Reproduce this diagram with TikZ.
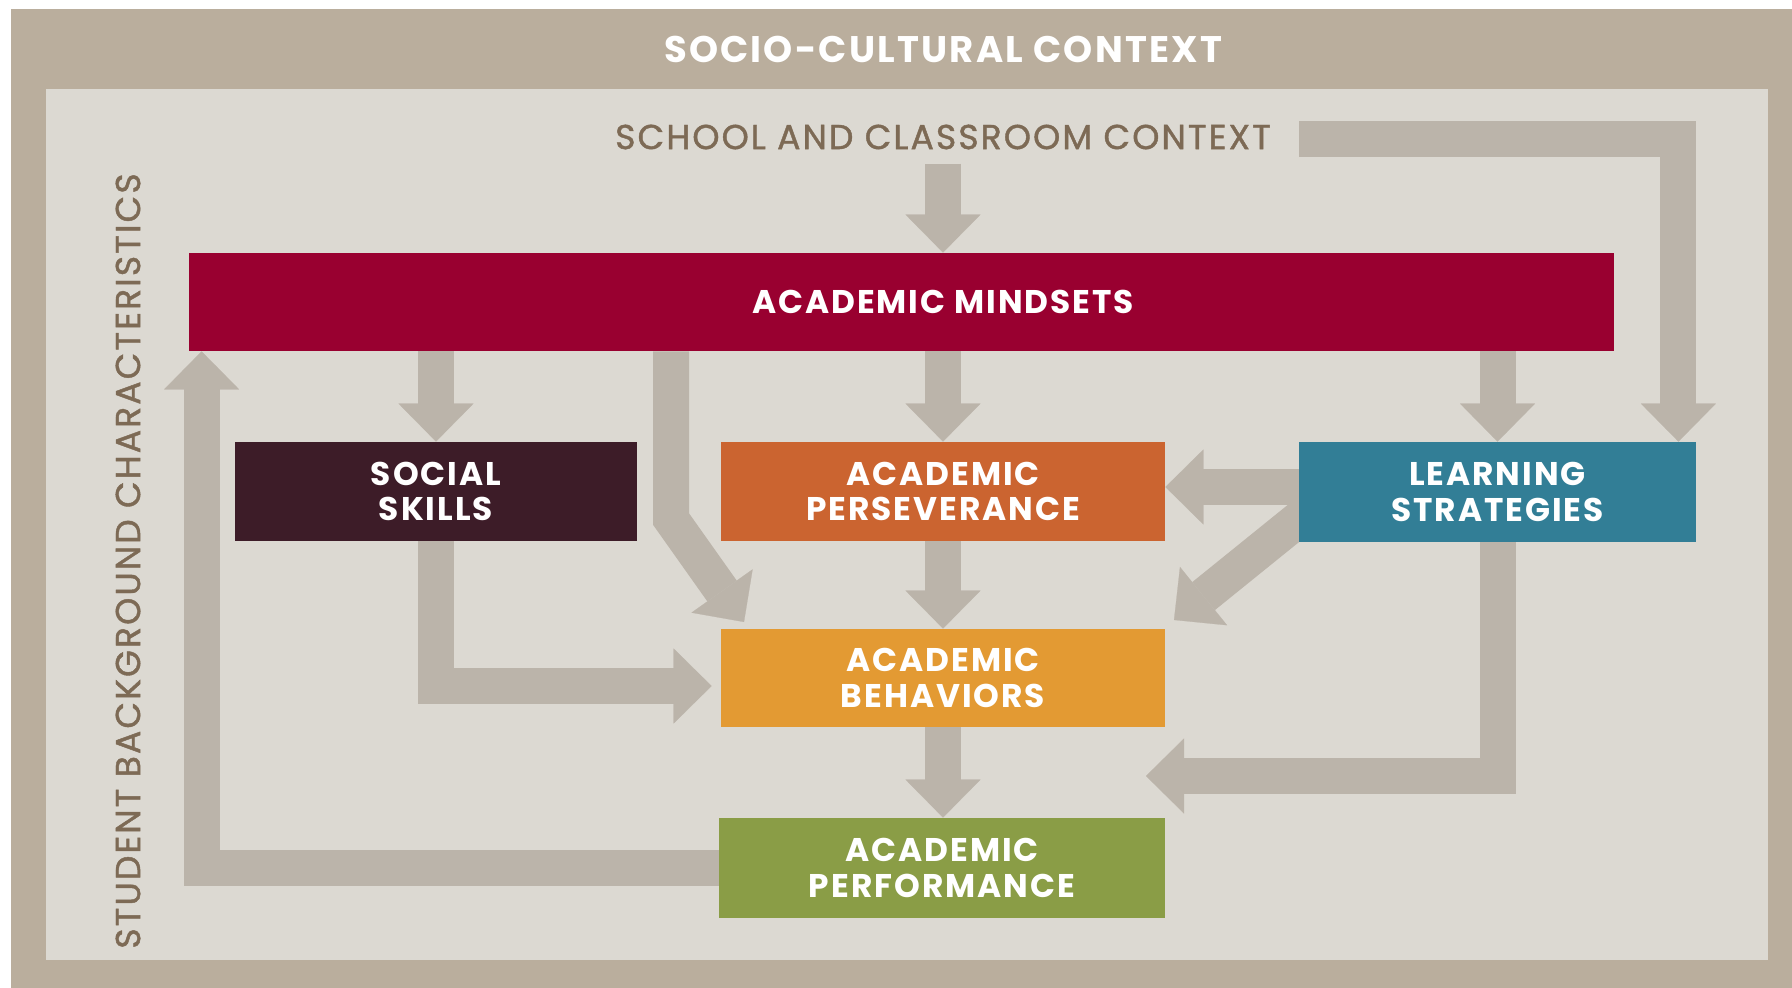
\documentclass[tikz,border=0pt]{standalone}
\usepackage{fontspec}
\setmainfont{Poppins}
\newfontfamily\capsfont{Poppins}[LetterSpace=6]
\newfontfamily\ctxfont{Poppins}[LetterSpace=6,FakeBold=1.2]
\usetikzlibrary{arrows.meta}
\definecolor{outerbg}{HTML}{BAAE9D}
\definecolor{innerbg}{HTML}{DCD9D2}
\definecolor{arrowgray}{HTML}{BBB4AA}
\definecolor{ctxbrown}{HTML}{7D6A55}
\definecolor{mindred}{HTML}{990030}
\definecolor{socialplum}{HTML}{3D1C28}
\definecolor{persorange}{HTML}{CB6430}
\definecolor{learnteal}{HTML}{327E96}
\definecolor{behgold}{HTML}{E39A33}
\definecolor{perfgreen}{HTML}{8A9D46}
\pgfdeclarelayer{bg}
\pgfdeclarelayer{arrlayer}
\pgfsetlayers{bg,arrlayer,main}

\begin{document}
\begin{tikzpicture}[x=0.5pt,y=-0.5pt,
  box/.style={inner sep=0pt, text=white, align=center,
    font=\capsfont\bfseries\fontsize{16.4}{17.8}\selectfont},
  ctxtext/.style={inner sep=0pt, text=ctxbrown,
    font=\ctxfont\fontsize{17.3}{19}\selectfont},
  arr/.style={draw=arrowgray, line width=18pt,
    -{Triangle[width=37.5pt,length=19pt,line width=0.1pt]}}]
\useasboundingbox (0,0) rectangle (1792,988);
\begin{pgfonlayer}{bg}
\fill [outerbg] (11,9) rectangle (1792,988);
\fill [innerbg] (46,89) rectangle (1768,960);
\end{pgfonlayer}

\node (socio) at (943,49) [inner sep=0pt, text=white, font=\capsfont\bfseries\fontsize{18.5}{20}\selectfont] {SOCIO-CULTURAL CONTEXT};
\node (school) at (943,137) [ctxtext] {SCHOOL AND CLASSROOM CONTEXT};
\node (student) at (128,561) [ctxtext, rotate=90] {STUDENT BACKGROUND CHARACTERISTICS};

\node (mind) at (901.5,302) [box, fill=mindred, minimum width=712.5pt, minimum height=49pt] {};
\node (mindtxt) at (943,302) [box] {ACADEMIC MINDSETS};
\node (soc) at (436,491.5) [box, fill=socialplum, minimum width=201pt, minimum height=49.5pt] {SOCIAL\\SKILLS};
\node (pers) at (943,491.5) [box, fill=persorange, minimum width=222pt, minimum height=49.5pt] {ACADEMIC\\PERSEVERANCE};
\node (learn) at (1497.5,492) [box, fill=learnteal, minimum width=198.5pt, minimum height=50pt] {LEARNING\\STRATEGIES};
\node (beh) at (943,678) [box, fill=behgold, minimum width=222pt, minimum height=49pt] {ACADEMIC\\BEHAVIORS};
\node (perf) at (942,868) [box, fill=perfgreen, minimum width=223pt, minimum height=50pt] {ACADEMIC\\PERFORMANCE};

\coordinate (ctx) at (1299,139.5);
\coordinate (bend) at (671,519);
\coordinate (mtip) at (744,622);
\coordinate (lsstart) at (1315,506);
\coordinate (ltip) at (1174,620);
\coordinate (gap) at (1146,776);

\begin{pgfonlayer}{arrlayer}
\draw [arr] ([yshift=-7pt]school.south) -- (mind.north -| school.south);
\draw [arr] (ctx) -| ([xshift=-9pt]learn.north east);
\draw [arr] (mind.south -| soc.north) -- (soc.north);
\draw [arr] (mind.south -| pers.north) -- (pers.north);
\draw [arr] (mind.south -| learn.north) -- (learn.north);
\draw [arr] (mind.south -| bend) -- (bend) -- (mtip);
\draw [arr] ([yshift=2.5pt]learn.west) -- ([yshift=2.5pt]learn.west -| pers.east);
\draw [arr] (lsstart) -- (ltip);
\draw [arr] (pers.south) -- (beh.north);
\draw [arr] (soc.south) |- ([xshift=-4.5pt,yshift=-4pt]beh.west);
\draw [arr] (beh.south) -- (beh.south |- perf.north);
\draw [arr] (learn.south) |- (gap);
\draw [arr] (perf.west) -| ([xshift=6.5pt]mind.south west);
\end{pgfonlayer}
\end{tikzpicture}
\end{document}
